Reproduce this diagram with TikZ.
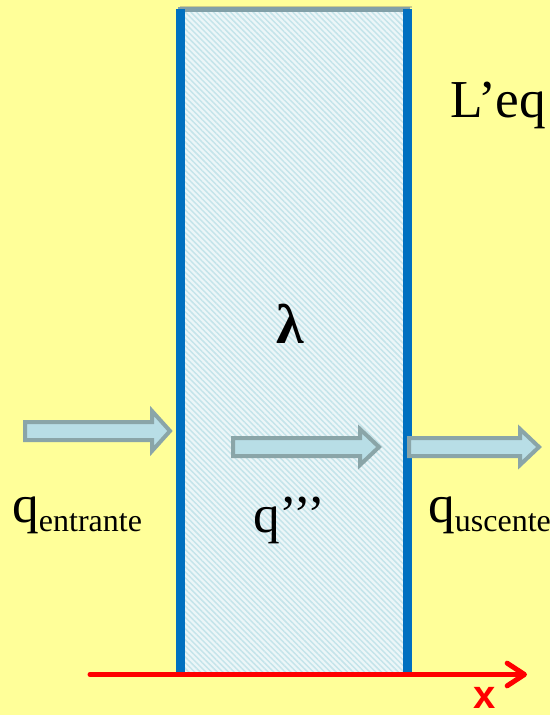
\documentclass[tikz,border=0pt]{standalone}
\usepackage{fontspec}
\setmainfont{Liberation Serif}
\newfontfamily\axisfont{Liberation Sans}
\usetikzlibrary{arrows.meta,patterns.meta}

\definecolor{slidebg}{RGB}{255,255,153}
\definecolor{wallblue}{RGB}{0,112,192}
\definecolor{slabfill}{RGB}{236,246,248}
\definecolor{slabhatch}{RGB}{196,228,234}
\definecolor{slabtop}{RGB}{130,160,168}
\definecolor{slabshade}{RGB}{205,205,140}
\definecolor{fluxfill}{RGB}{184,222,230}
\definecolor{fluxedge}{RGB}{138,165,168}

\newcommand\lowidx[1]{\raisebox{-7pt}{\fontsize{24}{24}\selectfont #1}}

\begin{document}
\begin{tikzpicture}[
    x=0.75pt, y=-0.75pt,
    wall/.style  = {draw=wallblue, line width=6.75pt},
    flux/.style  = {draw=fluxedge, fill=fluxfill, line width=3pt},
    lbl/.style   = {anchor=base west, inner sep=0pt,
                    font=\fontsize{40}{40}\selectfont},
    axis/.style  = {draw=red, line width=3.75pt, line cap=round,
                    -{Straight Barb[length=13pt,width=17pt,round]}},
  ]

  \useasboundingbox (0,0) rectangle (550,715);
  \clip (0,0) rectangle (550,715);
  \fill[slidebg] (0,0) rectangle (550,715);

  % slab
  \fill[slabfill] (180,10) rectangle (407,672);
  \fill[pattern={Lines[angle=-45,distance=3pt,line width=1.1pt]},
        pattern color=slabhatch] (180,10) rectangle (407,672);
  \draw[slabshade, line width=1.5pt] (180,6.5) -- (412,6.5);
  \draw[slabtop, line width=3.75pt] (178,9.5) -- (410,9.5);

  \coordinate (w1a) at (180.5,9);
  \coordinate (w1b) at (180.5,672);
  \coordinate (w2a) at (407.5,9);
  \coordinate (w2b) at (407.5,672);
  \draw[wall] (w1a) -- (w1b);
  \draw[wall] (w2a) -- (w2b);

  % heat flows
  \draw[flux] (25,422) -- (152,422) -- (152,411) -- (170,431)
    -- (152,451) -- (152,440) -- (25,440) -- cycle;
  \draw[flux] (233,438) -- (360,438) -- (360,429) -- (379,447)
    -- (360,465) -- (360,456) -- (233,456) -- cycle;
  \draw[flux] (409,438) -- (520,438) -- (520,429) -- (539,447)
    -- (520,465) -- (520,456) -- (409,456) -- cycle;

  % labels
  \node[lbl] (leq) at (450,117) {L’eq};
  \node[lbl, font=\bfseries\fontsize{42}{42}\selectfont] (lam)
    at (276,343) {λ};
  \node[lbl] (qin) at (12,522) {q\lowidx{entrante}};
  \node[lbl] (qgen) at (253,532) {q’’’};
  \node[lbl] (qout) at (428,522) {q\lowidx{uscente}};

  % x axis
  \coordinate (ax0) at (90,674.5);
  \coordinate (ax1) at (527,674.5);
  \draw[axis] (ax0) -- (ax1);
  \node[lbl, font=\axisfont\bfseries\fontsize{30}{30}\selectfont,
        text=red] (xlbl) at (473,708) {x};

\end{tikzpicture}
\end{document}
